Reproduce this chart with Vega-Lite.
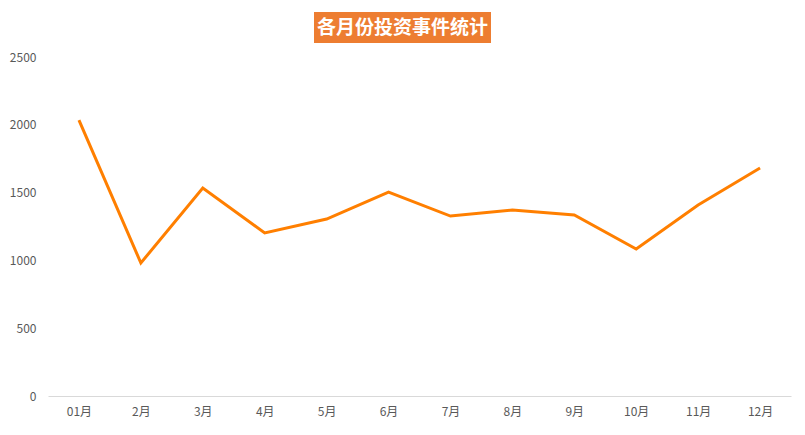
{
  "$schema": "https://vega.github.io/schema/vega-lite/v6.json",
  "padding": {"left": 9, "top": 12, "right": 15, "bottom": 5},
  "background": "white",
  "config": {
    "view": {"stroke": null},
    "font": "Noto Sans CJK SC"
  },
  "data": {
    "values": [
      {"month": "01月", "count": 2035},
      {"month": "2月", "count": 981},
      {"month": "3月", "count": 1534},
      {"month": "4月", "count": 1202},
      {"month": "5月", "count": 1305},
      {"month": "6月", "count": 1504},
      {"month": "7月", "count": 1327},
      {"month": "8月", "count": 1372},
      {"month": "9月", "count": 1335},
      {"month": "10月", "count": 1084},
      {"month": "11月", "count": 1409},
      {"month": "12月", "count": 1681}
    ]
  },
  "vconcat": [
    {
      "spacing": 0,
      "hconcat": [
        {
          "width": 266,
          "height": 31,
          "data": {"values": []},
          "mark": {"type": "text"},
          "encoding": {}
        },
        {
          "width": 177,
          "height": 31,
          "view": {"fill": "#ED7D31", "stroke": null},
          "data": {"values": [{"title": "各月份投资事件统计"}]},
          "mark": {"type": "text", "color": "white", "fontSize": 19, "fontWeight": "bold", "font": "Noto Sans CJK SC", "align": "center", "baseline": "middle"},
          "encoding": {"text": {"field": "title", "type": "nominal"}}
        }
      ]
    },
    {
      "width": 743,
      "height": 339,
      "mark": {"type": "line", "color": "#FF7F00", "strokeWidth": 3},
      "encoding": {
        "x": {
          "field": "month",
          "type": "ordinal",
          "sort": null,
          "scale": {"type": "point", "padding": 0.5},
          "axis": {"title": null, "labelAngle": 0, "ticks": false, "domainColor": "#d9d9d9", "labelColor": "#595959", "labelFontSize": 12, "labelPadding": 10, "grid": false}
        },
        "y": {
          "field": "count",
          "type": "quantitative",
          "scale": {"domain": [0, 2500]},
          "axis": {"title": null, "format": "d", "values": [0, 500, 1000, 1500, 2000, 2500], "domain": false, "ticks": false, "grid": false, "labelColor": "#595959", "labelFontSize": 12, "labelPadding": 12}
        }
      }
    }
  ],
  "spacing": 8
}
